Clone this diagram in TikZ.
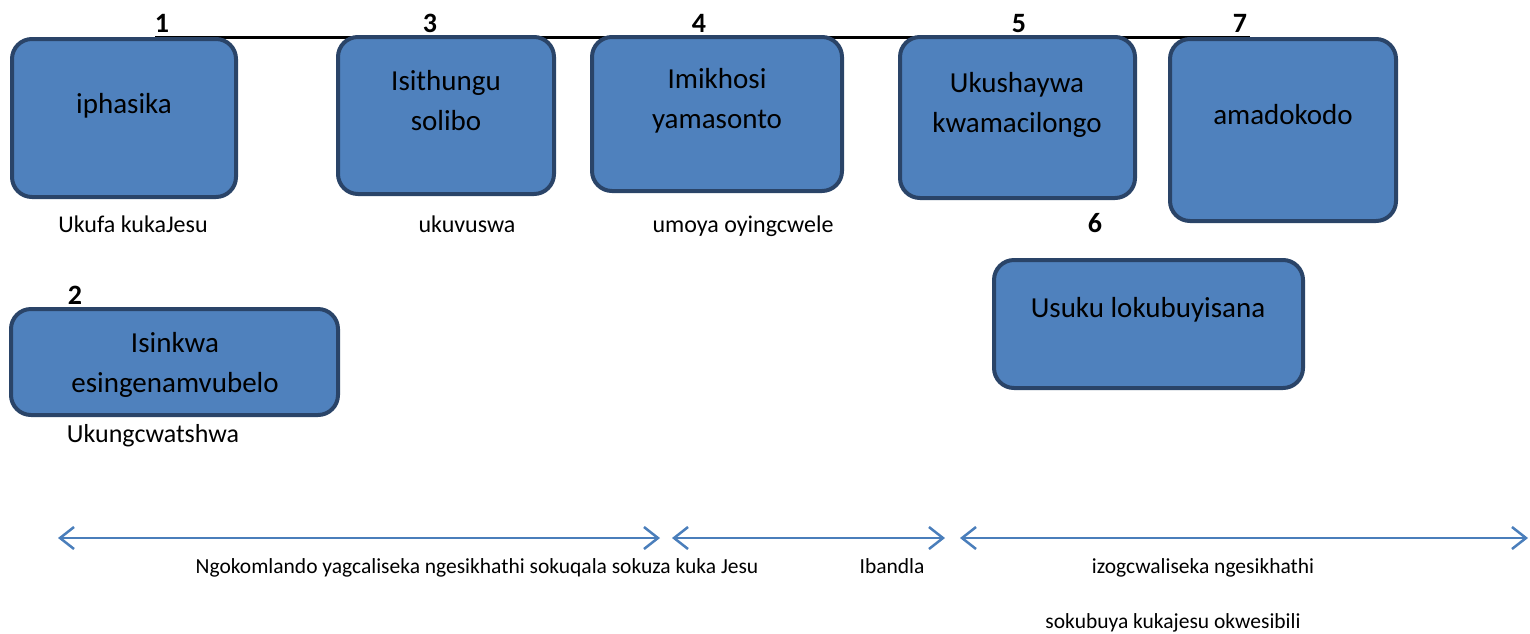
\documentclass[tikz,border=0pt]{standalone}
\usepackage{fontspec}
\setmainfont{Carlito}
\usetikzlibrary{arrows.meta}
\definecolor{boxfill}{HTML}{4F81BD}
\definecolor{boxline}{HTML}{2A4468}
\definecolor{arrowblue}{HTML}{4A7EBB}
\begin{document}
\begin{tikzpicture}[x=1pt,y=-1pt,
  bx/.style={draw=boxline, fill=boxfill, line width=4pt, rounded corners=20pt, inner sep=0pt},
  bt/.style={font=\fontsize{29}{40}\selectfont, anchor=base, inner sep=0pt},
  lbl/.style={font=\fontsize{24}{28}\selectfont, anchor=base, inner sep=0pt},
  lblbig/.style={font=\fontsize{26}{30}\selectfont, anchor=base, inner sep=0pt},
  bot/.style={font=\fontsize{21.5}{25}\selectfont, anchor=base, inner sep=0pt},
  num/.style={font=\bfseries\fontsize{28}{30}\selectfont, anchor=base, inner sep=0pt},
  span/.style={draw=arrowblue, line width=2.5pt, {Straight Barb[length=14pt,width=22pt]}-{Straight Barb[length=14pt,width=22pt]}}
]
\useasboundingbox (0,0) rectangle (1530,633);
% timeline
\coordinate (tl) at (155,37);
\coordinate (tr) at (1250,37);
\draw[line width=3pt] (tl) -- (tr);
% boxes
\node[bx, minimum width=224pt, minimum height=158pt] (b1) at (124,118) {};
\node[bx, minimum width=216pt, minimum height=157pt] (b3) at (446,115.5) {};
\node[bx, minimum width=250pt, minimum height=154pt] (b4) at (717,114) {};
\node[bx, minimum width=235pt, minimum height=161pt] (b5) at (1017.5,117.5) {};
\node[bx, minimum width=226pt, minimum height=182pt] (b7) at (1283,130) {};
\node[bx, minimum width=309pt, minimum height=128pt] (b6) at (1148.5,324) {};
\node[bx, minimum width=327pt, minimum height=106pt] (b2) at (174.5,362) {};
% box texts
\node[bt] (t1) at (124,113) {iphasika};
\node[bt] (t3a) at (446,90) {Isithungu};
\node[bt] (t3b) at (446,130) {solibo};
\node[bt] (t4a) at (717,88) {Imikhosi};
\node[bt] (t4b) at (717,128) {yamasonto};
\node[bt] (t5a) at (1017,92) {Ukushaywa};
\node[bt] (t5b) at (1017,132) {kwamacilongo};
\node[bt] (t7) at (1283,124) {amadokodo};
\node[bt] (t6) at (1148,317) {Usuku lokubuyisana};
\node[bt] (t2a) at (175,352) {Isinkwa};
\node[bt] (t2b) at (175,392) {esingenamvubelo};
% numbers
\node[num] (n1) at (162,32) {1};
\node[num] (n3) at (430,32) {3};
\node[num] (n4) at (699,32) {4};
\node[num] (n5) at (1019,32) {5};
\node[num] (n7) at (1240,32) {7};
\node[num] (n6) at (1095,232) {6};
\node[num] (n2) at (75,304) {2};
% labels
\node[lbl] (l1) at (133,232) {Ukufa kukaJesu};
\node[lbl] (l3) at (467,232) {ukuvuswa};
\node[lbl] (l4) at (743,232) {umoya oyingcwele};
\node[lblbig] (l2) at (153,442) {Ukungcwatshwa};
% spans
\coordinate (a1l) at (58,538);
\coordinate (a1r) at (660,538);
\coordinate (a2l) at (672,538);
\coordinate (a2r) at (945,538);
\coordinate (a3l) at (960,538);
\coordinate (a3r) at (1528,538);
\draw[span] (a1l) -- (a1r);
\draw[span] (a2l) -- (a2r);
\draw[span] (a3l) -- (a3r);
\node[bot] (s1) at (477,573) {Ngokomlando yagcaliseka ngesikhathi sokuqala sokuza kuka Jesu};
\node[bot] (s2) at (892,573) {Ibandla};
\node[bot] (s3a) at (1203,573) {izogcwaliseka ngesikhathi};
\node[bot] (s3b) at (1173,628) {sokubuya kukajesu okwesibili};
\end{tikzpicture}
\end{document}
